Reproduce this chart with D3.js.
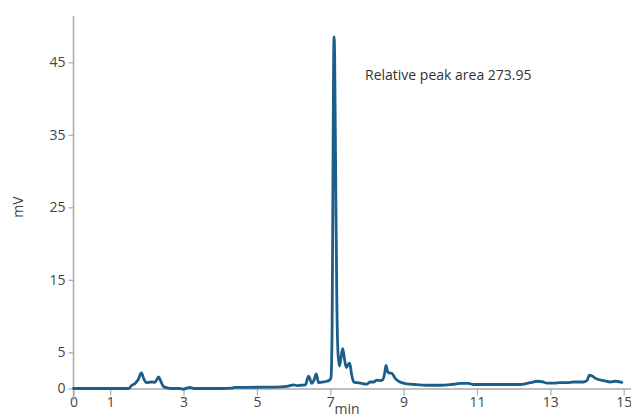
<!DOCTYPE html>
<html><head><meta charset="utf-8">
<script src="https://cdn.jsdelivr.net/npm/d3@7"></script>
<style>body{margin:0;background:#fff}svg{display:block}text{font-family:"Open Sans",sans-serif}</style>
</head><body><div id="chart"></div>
<script>
const times = [0,0.5,1.0,1.5,1.59,1.68,1.76,1.85,1.92,1.98,2.06,2.14,2.21,2.27,2.32,2.38,2.45,2.55,2.7,2.9,3.0,3.08,3.17,3.3,3.6,4.0,4.3,4.4,4.8,5.2,5.5,5.82,6.0,6.1,6.2,6.32,6.41,6.5,6.56,6.62,6.68,6.75,6.82,6.9,6.98,7.02,7.05,7.07,7.09,7.105,7.12,7.15,7.18,7.21,7.25,7.3,7.34,7.39,7.44,7.49,7.53,7.58,7.64,7.73,7.82,8.0,8.09,8.18,8.27,8.36,8.43,8.48,8.52,8.56,8.6,8.68,8.77,8.9,9.09,9.3,9.64,10.0,10.3,10.55,10.77,10.9,11.5,12.18,12.36,12.5,12.64,12.8,12.91,13.1,13.27,13.45,13.64,13.91,14.0,14.07,14.15,14.23,14.35,14.45,14.64,14.77,14.95];
const mV = [0,0,0,0,0.45,0.7,1.2,2.15,1.3,0.8,0.85,0.9,0.85,1.2,1.6,1.0,0.3,0.1,0,0,-0.1,0.05,0.15,0,0,0,0.05,0.15,0.15,0.2,0.2,0.3,0.5,0.4,0.45,0.5,1.7,0.7,1.2,2.0,0.8,0.85,0.9,1.0,1.15,1.5,8,25,44,48.5,46,28,12,5,3.1,4.5,5.5,4.0,2.9,3.3,3.5,2.0,0.9,0.8,0.75,0.6,0.9,0.9,1.15,1.1,1.2,2.0,3.2,2.4,2.15,2.1,1.4,0.9,0.65,0.55,0.45,0.45,0.55,0.7,0.7,0.55,0.55,0.55,0.7,0.85,1.0,0.9,0.75,0.75,0.8,0.8,0.9,0.9,1.1,1.85,1.7,1.4,1.2,1.1,0.9,1.0,0.85];
const xTicks = [0,1,3,5,7,9,11,13,15];
const yTicks = [0,5,15,25,35,45];
const annotation = "Relative peak area 273.95";

const W = 631, H = 418;
const svg = d3.select("#chart").append("svg").attr("width", W).attr("height", H);
const x = d3.scaleLinear().domain([0, 15.2]).range([73.5, 631]);
const y = d3.scaleLinear().domain([0, 51.4]).range([388.5, 16]);

const gx = svg.append("g").attr("transform", `translate(0,${y(0)})`)
  .call(d3.axisBottom(x).tickValues(xTicks).tickFormat(d3.format("d")).tickSize(7).tickSizeOuter(0));
const gy = svg.append("g").attr("transform", `translate(${x(0)},0)`)
  .call(d3.axisLeft(y).tickValues(yTicks).tickFormat(d3.format("d")).tickSize(5).tickSizeOuter(0));
[gx, gy].forEach(g => {
  g.select(".domain").attr("stroke", "#aaa").attr("stroke-width", 1.5);
  g.selectAll(".tick line").attr("stroke", "#aaa").attr("stroke-width", 1.2);
  g.selectAll(".tick text").attr("fill", "#444").style("font-size", "14px").style("font-family", "'Open Sans',sans-serif");
});
gy.selectAll(".tick text").attr("x", -8);
gx.selectAll(".tick text").attr("y", 9);
gy.select(".domain").attr("d", `M0,${y(0)+12}V16`);

const pts = times.map((t, i) => [t, mV[i]]);
svg.append("path").datum(pts)
  .attr("fill", "none").attr("stroke", "#1b5e8a").attr("stroke-width", 2.8)
  .attr("stroke-linejoin", "round").attr("stroke-linecap", "round")
  .attr("d", d3.line().x(d => x(d[0])).y(d => y(d[1])).curve(d3.curveMonotoneX));

svg.append("text").attr("x", 347).attr("y", 414).attr("text-anchor", "middle")
  .attr("fill", "#444").style("font-size", "14px").text("min");
svg.append("text").attr("transform", "translate(23,207) rotate(-90)").attr("text-anchor", "middle")
  .attr("fill", "#444").style("font-size", "14px").text("mV");
svg.append("text").attr("x", 365).attr("y", 80).attr("fill", "#333")
  .style("font-size", "14px").text(annotation);
</script></body></html>
